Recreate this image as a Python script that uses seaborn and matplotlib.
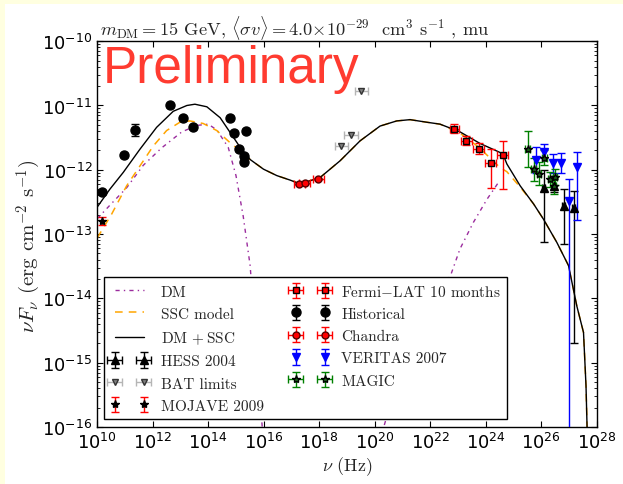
import numpy as np
import matplotlib
matplotlib.use("Agg")
import matplotlib.pyplot as plt
import seaborn as sns
from matplotlib.font_manager import FontProperties
from matplotlib.ticker import FixedLocator, LogLocator, NullLocator, NullFormatter
from matplotlib.patches import Rectangle

# all values are log10(nu / Hz) and log10(nuFnu / erg cm^-2 s^-1)

# model curves
dm_lo_lognu = [10.0, 10.46, 11.06, 11.66, 12.32, 13.05, 13.59, 14.00, 14.31, 14.72, 15.00, 15.26, 15.51, 15.93, 16.05]
dm_lo_logflux = [-12.76, -12.55, -12.28, -11.93, -11.66, -11.41, -11.31, -11.29, -11.38, -11.65, -12.09, -12.72, -13.49, -15.91, -16.6]
dm_hi_lognu = [20.0, 20.35, 21.0, 21.9, 22.75, 23.07, 23.55, 24.04, 24.45]
dm_hi_logflux = [-16.6, -15.96, -15.0, -14.3, -13.62, -13.23, -12.82, -12.46, -12.20]

ssc_lognu = [10.0, 10.52, 11.06, 11.54, 12.02, 12.50, 12.98, 13.34, 13.82, 14.31, 14.79, 15.26, 15.51,
             15.99, 16.47, 16.95, 17.31, 18.03, 18.75, 19.47, 20.19, 20.79, 21.27, 21.87, 22.35, 23.07,
             23.75, 24.50, 24.76, 25.24, 25.72, 26.08, 26.56, 26.98, 27.28, 27.52, 27.61, 27.65]
ssc_logflux = [-13.06, -12.69, -12.25, -11.94, -11.63, -11.39, -11.26, -11.24, -11.28, -11.39, -11.58, -11.74, -11.84,
               -11.99, -12.09, -12.16, -12.22, -12.12, -11.86, -11.55, -11.32, -11.24, -11.22, -11.26, -11.29, -11.43,
               -11.65, -11.96, -12.03, -12.27, -12.53, -12.77, -13.13, -13.49, -14.12, -14.53, -15.36, -16.03]

tot_lognu = [10.0, 10.46, 10.94, 11.54, 12.14, 12.74, 13.23, 13.52, 13.95, 14.43, 14.79, 15.15, 15.51,
             15.99, 16.47, 16.95, 17.31, 18.03, 18.75, 19.47, 20.19, 20.79, 21.27, 21.87, 22.35, 23.07,
             23.79, 24.51, 24.63, 24.76, 25.24, 25.72, 26.08, 26.56, 26.98, 27.28, 27.52, 27.61, 27.65]
tot_logflux = [-12.58, -12.30, -12.04, -11.68, -11.34, -11.09, -11.00, -10.98, -11.02, -11.19, -11.42, -11.65, -11.84,
               -11.99, -12.09, -12.16, -12.22, -12.12, -11.86, -11.55, -11.32, -11.24, -11.22, -11.26, -11.29, -11.41,
               -11.59, -11.73, -11.77, -11.91, -12.25, -12.53, -12.77, -13.13, -13.49, -14.12, -14.53, -15.36, -16.03]

# data sets: position, flux, flux bounds (lo, hi), half width in log nu
hess_lognu = [26.08, 26.45, 26.80, 27.16]
hess_logflux = [-12.29, -12.25, -12.56, -12.59]
hess_lo = [-13.13, -12.35, -13.16, -14.70]
hess_hi = [-12.01, -12.15, -12.30, -12.33]
hess_dnu = [0.05, 0.05, 0.05, 0.05]

bat_lognu = [18.79, 19.14, 19.51]
bat_logflux = [-11.63, -11.46, -10.77]
bat_dnu = [0.24, 0.24, 0.24]

mojave_lognu = [10.17]
mojave_logflux = [-12.80]
mojave_lo = [-12.86]
mojave_hi = [-12.74]

fermi_lognu = [22.86, 23.29, 23.75, 24.18, 24.61]
fermi_logflux = [-11.36, -11.55, -11.67, -11.90, -11.77]
fermi_lo = [-11.43, -11.62, -11.76, -12.28, -12.30]
fermi_hi = [-11.29, -11.48, -11.58, -11.68, -11.55]
fermi_dnu = [0.16, 0.2, 0.2, 0.2, 0.2]

hist_lognu = [10.17, 10.95, 11.37, 12.63, 13.10, 13.45, 14.79, 14.93, 15.37, 15.12, 15.29, 15.28]
hist_logflux = [-12.34, -11.77, -11.38, -11.00, -11.19, -11.33, -11.20, -11.42, -11.40, -11.68, -11.79, -11.88]
hist_dflux = [0.03, 0.03, 0.09, 0.03, 0.03, 0.03, 0.03, 0.03, 0.03, 0.03, 0.03, 0.03]

chandra_lognu = [17.28, 17.48, 17.97]
chandra_logflux = [-12.22, -12.20, -12.14]
chandra_dnu = [0.2, 0.2, 0.2]

veritas_lognu = [25.81, 26.11, 26.41, 26.71, 27.01, 27.30]
veritas_logflux = [-11.85, -11.72, -11.90, -11.89, -12.48, -11.96]
veritas_lo = [-12.05, -11.82, -12.05, -12.05, -20.0, -12.78]
veritas_hi = [-11.65, -11.60, -11.75, -11.74, -12.14, -11.72]

magic_lognu = [25.51, 25.72, 25.91, 26.11, 26.32, 26.50, 26.46]
magic_logflux = [-11.68, -11.99, -12.06, -11.81, -12.15, -12.11, -12.25]
magic_dflux = [0.28, 0.18, 0.18, 0.12, 0.12, 0.12, 0.12]
magic_dnu = [0.08, 0.08, 0.08, 0.08, 0.08, 0.08, 0.08]


def lin(a):
    return 10.0 ** np.asarray(a, dtype=float)


def err_bounds(center, lo, hi):
    c = lin(center)
    return [c - lin(lo), lin(hi) - c]


def err_sym(center, d):
    c = np.asarray(center, dtype=float)
    d = np.asarray(d, dtype=float)
    return err_bounds(c, c - d, c + d)


sns.set_style("ticks")
plt.rcParams["mathtext.fontset"] = "dejavusans"

fig, ax = plt.subplots(figsize=(6.23, 4.85), dpi=100)
fig.subplots_adjust(left=0.156, right=0.958, bottom=0.1175, top=0.913)
fig.patch.set_facecolor("#ffffe0")
fig.add_artist(Rectangle((5 / 623, 0), 1, 1 - 5 / 485, transform=fig.transFigure,
                         facecolor="white", edgecolor="none", zorder=-10))

ax.set_xscale("log")
ax.set_yscale("log")

dm_color = "#9b2c9e"
l_dm = sns.lineplot(x=lin(dm_lo_lognu), y=lin(dm_lo_logflux), ax=ax, color=dm_color, lw=1,
                    linestyle=(0, (3, 3, 1, 3)), legend=False).lines[-1]
sns.lineplot(x=lin(dm_hi_lognu), y=lin(dm_hi_logflux), ax=ax, color=dm_color, lw=1,
             linestyle=(0, (3, 3, 1, 3)), legend=False)
l_ssc = sns.lineplot(x=lin(ssc_lognu), y=lin(ssc_logflux), ax=ax, color="orange", lw=1.1,
                     linestyle=(0, (5, 4)), legend=False).lines[-1]
l_tot = sns.lineplot(x=lin(tot_lognu), y=lin(tot_logflux), ax=ax, color="black", lw=1,
                     legend=False).lines[-1]

eb = dict(ls="none", capsize=3, elinewidth=1, capthick=1, zorder=3)

h_hess = ax.errorbar(lin(hess_lognu), lin(hess_logflux), yerr=err_bounds(hess_logflux, hess_lo, hess_hi),
                     xerr=err_sym(hess_lognu, hess_dnu), fmt="^", color="k", ms=6, **eb)
h_bat = ax.errorbar(lin(bat_lognu), lin(bat_logflux), xerr=err_sym(bat_lognu, bat_dnu),
                    fmt="v", color="gray", mec="#333333", ecolor="#b5b5b5", ms=5, **eb)
h_moj = ax.errorbar(lin(mojave_lognu), lin(mojave_logflux), yerr=err_bounds(mojave_logflux, mojave_lo, mojave_hi),
                    fmt="*", color="k", ecolor="red", ms=6, **eb)
h_fermi = ax.errorbar(lin(fermi_lognu), lin(fermi_logflux), yerr=err_bounds(fermi_logflux, fermi_lo, fermi_hi),
                      xerr=err_sym(fermi_lognu, fermi_dnu), fmt="s", color="red", mec="k", ms=4, **eb)
h_hist = ax.errorbar(lin(hist_lognu), lin(hist_logflux), yerr=err_sym(hist_logflux, hist_dflux),
                     fmt="o", color="k", ms=6.5, **eb)
h_chan = ax.errorbar(lin(chandra_lognu), lin(chandra_logflux), xerr=err_sym(chandra_lognu, chandra_dnu),
                     yerr=err_sym(chandra_logflux, [0.02, 0.02, 0.02]),
                     fmt="o", color="red", mec="#550000", ms=5, **eb)
h_ver = ax.errorbar(lin(veritas_lognu), lin(veritas_logflux), yerr=err_bounds(veritas_logflux, veritas_lo, veritas_hi),
                    fmt="v", color="blue", ms=6, **eb)
h_magic = ax.errorbar(lin(magic_lognu), lin(magic_logflux), yerr=err_sym(magic_logflux, magic_dflux),
                      xerr=err_sym(magic_lognu, magic_dnu), fmt="*", color="green", mfc="#1a5e1a", mec="k",
                      ms=6, **eb)

ax.set_xlim(1e10, 1e28)
ax.set_ylim(1e-16, 1e-10)
ax.xaxis.set_major_locator(FixedLocator(lin(np.arange(10, 29, 2))))
ax.xaxis.set_minor_locator(NullLocator())
ax.yaxis.set_major_locator(LogLocator(base=10, numticks=10))
ax.yaxis.set_minor_locator(LogLocator(base=10, subs=np.arange(2, 10), numticks=20))
ax.yaxis.set_minor_formatter(NullFormatter())
ax.tick_params(which="both", direction="in", top=True, right=True, colors="k", labelsize=12.8)
ax.tick_params(which="major", length=4, width=0.8)
ax.tick_params(which="minor", length=2, width=0.6)
for s in ax.spines.values():
    s.set_color("k")
    s.set_linewidth(1)

ax.text(0.011, 0.893, "Preliminary", transform=ax.transAxes, fontsize=37, color="#ff3b30",
        family="Liberation Sans", va="baseline", ha="left", zorder=6)

ax.text(0.0056, 1.018,
        r"$m_{\rm DM}=$15 GeV, $\langle\sigma v\rangle=$4.0$\times10^{-29}$  cm$^3$ s$^{-1}$ , mu",
        transform=ax.transAxes, fontsize=13.2, family="cmr10", math_fontfamily="cm", va="baseline", ha="left")

ax.set_ylabel(r"$\nu F_{\nu}$ (erg cm$^{-2}$ s$^{-1}$)", fontsize=15, family="cmr10", math_fontfamily="cm")
ax.set_xlabel(r"$\nu$ (Hz)", fontsize=13, family="cmr10", math_fontfamily="cm")
ax.yaxis.set_label_coords(-0.108, 0.47)
ax.xaxis.set_label_coords(0.5, -0.07)

legend_font = FontProperties(family="cmr10", size=11, math_fontfamily="cm")
handles = [l_dm, l_ssc, l_tot, h_hess, h_bat, h_moj, h_fermi, h_hist, h_chan, h_ver, h_magic]
labels = ["DM", "SSC model", r"DM$\,+$SSC", "HESS 2004", "BAT limits", "MOJAVE 2009",
          r"Fermi$-$LAT 10 months", "Historical", "Chandra", "VERITAS 2007", "MAGIC"]
leg = ax.legend(handles, labels, ncol=2, numpoints=2, loc="lower left", bbox_to_anchor=(0.0136, 0.021),
                borderaxespad=0, fancybox=False, edgecolor="k", framealpha=1, prop=legend_font,
                handlelength=2.5, labelspacing=0.56, columnspacing=1.8)
leg.get_frame().set_linewidth(1)
leg.set_zorder(10)

fig.savefig("out.png", dpi=100, facecolor=fig.get_facecolor())
